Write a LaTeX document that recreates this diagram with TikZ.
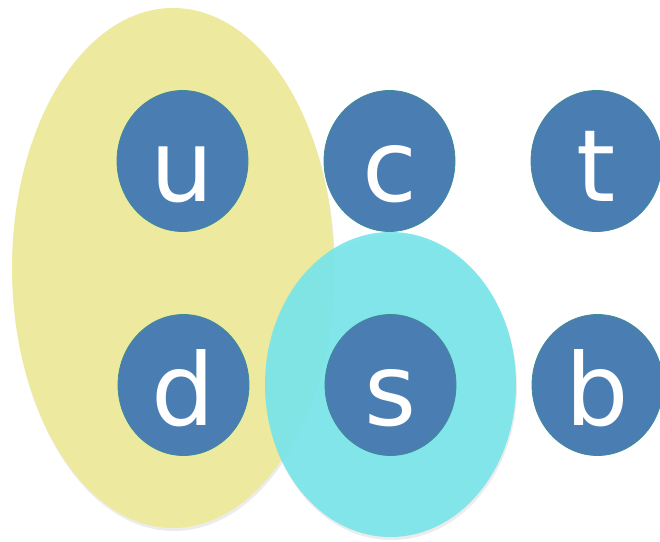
\documentclass[tikz,border=0pt]{standalone}
\usepackage{fontspec}
\setmainfont{DejaVu Sans}
\usetikzlibrary{shadows,shapes.geometric}
\definecolor{quarkblue}{HTML}{4A7EB3}
\definecolor{quarkedge}{HTML}{3F8A98}
\definecolor{groupyellow}{HTML}{EDEAA0}
\definecolor{groupcyan}{HTML}{78E5EA}
\tikzset{
  quark/.style={ellipse, draw=quarkedge, line width=0.8pt, fill=quarkblue,
    minimum width=131pt, minimum height=141pt, inner sep=0pt,
    text height=80pt, text depth=0pt,
    text=white, font=\fontsize{100}{100}\selectfont},
  group/.style={ellipse, draw=none, inner sep=0pt,
    drop shadow={shadow xshift=1pt, shadow yshift=-3pt, opacity=0.15}},
}
\begin{document}
\begin{tikzpicture}[x=1pt,y=-1pt]
\useasboundingbox (0,0) rectangle (660,541);
% flavour groupings
\node[group, fill=groupyellow, minimum width=322pt, minimum height=520pt] (gud) at (173,268) {};
\node[group, fill=groupcyan, fill opacity=0.92, minimum width=251pt, minimum height=305pt] (gs) at (390.5,384.5) {};
% quarks
\node[quark] (u) at (182.5,161) {u};
\node[quark] (c) at (389.5,161) {c};
\node[quark] (t) at (596.5,161) {t};
\node[quark] (d) at (183.5,385) {d};
\node[quark] (s) at (390.5,385) {s};
\node[quark] (b) at (597.5,385) {b};
\end{tikzpicture}
\end{document}
